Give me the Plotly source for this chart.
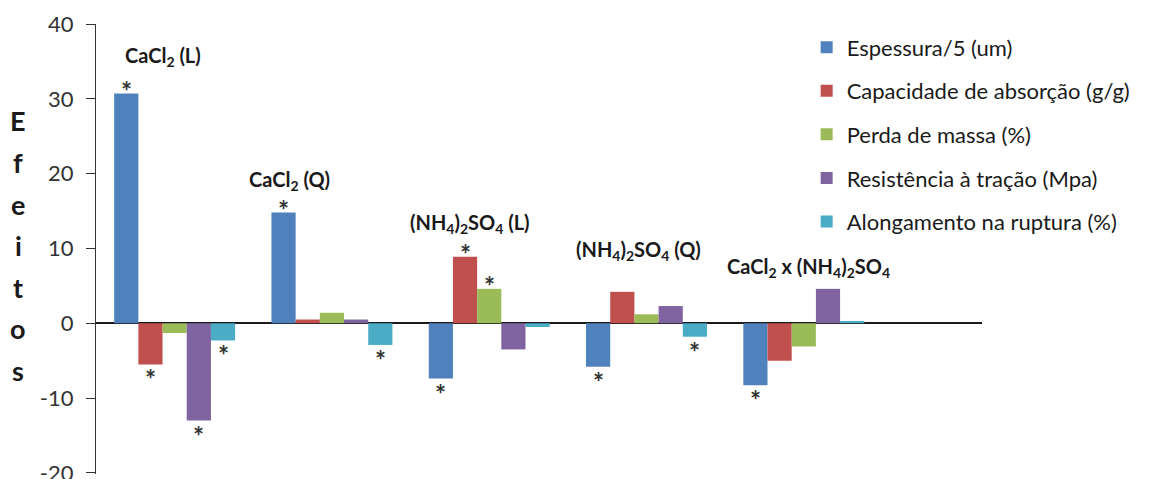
import plotly.graph_objects as go

# Factors (x categories)
factors = ["CaCl<sub>2</sub> (L)", "CaCl<sub>2</sub> (Q)", "(NH<sub>4</sub>)<sub>2</sub>SO<sub>4</sub> (L)",
           "(NH<sub>4</sub>)<sub>2</sub>SO<sub>4</sub> (Q)", "CaCl<sub>2</sub> x (NH<sub>4</sub>)<sub>2</sub>SO<sub>4</sub>"]

# Response series (effect estimates)
series_names = ["Espessura/5 (um)", "Capacidade de absorção (g/g)", "Perda de massa (%)",
                "Resistência à tração (Mpa)", "Alongamento na ruptura (%)"]
espessura = [30.7, 14.8, -7.4, -5.8, -8.3]
absorcao = [-5.5, 0.5, 8.9, 4.2, -5.0]
perda_massa = [-1.3, 1.4, 4.6, 1.2, -3.1]
resistencia = [-13.0, 0.5, -3.5, 2.3, 4.6]
alongamento = [-2.3, -2.9, -0.5, -1.8, 0.3]

# Significance flags (1 = significant effect, marked with *)
sig_espessura = [1, 1, 1, 1, 1]
sig_absorcao = [1, 0, 1, 0, 0]
sig_perda_massa = [0, 0, 1, 0, 0]
sig_resistencia = [1, 0, 0, 0, 0]
sig_alongamento = [1, 1, 0, 1, 0]

y_ticks = [-20, -10, 0, 10, 20, 30, 40]
y_tick_labels = ["-20", "-10", "0", "10", "20", "30", "40"]
axis_title = "Efeitos"

colors = ["#4F81BD", "#C0504D", "#9BBB59", "#8064A2", "#4BACC6"]
all_values = [espessura, absorcao, perda_massa, resistencia, alongamento]
all_sig = [sig_espessura, sig_absorcao, sig_perda_massa, sig_resistencia, sig_alongamento]

FONT = "Lato"
TXT = "#1a1a1a"
BARGAP = 0.231
n_series = len(series_names)
xs = list(range(len(factors)))

W, H = 1159, 479
L, R, T, B = 96, 177, 24, 5

fig = go.Figure()
for name, vals, col in zip(series_names, all_values, colors):
    fig.add_trace(go.Bar(x=xs, y=vals, name=name, marker=dict(color=col, line=dict(width=0)),
                         legendgroup=name))

annotations = []
bar_w = (1 - BARGAP) / n_series
for k, (vals, sig) in enumerate(zip(all_values, all_sig)):
    for i, (v, s) in enumerate(zip(vals, sig)):
        if not s:
            continue
        xpos = i + (k - (n_series - 1) / 2) * bar_w
        annotations.append(dict(x=xpos, y=v, xref="x", yref="y", text="<b>*</b>", showarrow=False,
                                yanchor="middle", yshift=3 if v > 0 else -15,
                                font=dict(family=FONT, size=26, color="#333333")))

# factor labels above each group
label_pos = [(-0.077, 35.6), (0.73, 19.1), (1.88, 13.4), (2.95, 9.76), (4.03, 7.5)]
for name, (lx, ly) in zip(factors, label_pos):
    annotations.append(dict(x=lx, y=ly, xref="x", yref="y", text="<b>" + name + "</b>", showarrow=False,
                            xanchor="center", yanchor="middle",
                            font=dict(family=FONT, size=20, color=TXT)))

# vertical stacked axis title (pixel positions converted to paper coords)
for j, ch in enumerate(axis_title):
    px, py = 18, 121 + j * 41.5
    annotations.append(dict(x=(px - L) / (W - L - R), y=(H - py - B) / (H - T - B),
                            xref="paper", yref="paper", text="<b>" + ch + "</b>",
                            showarrow=False, xanchor="center", yanchor="middle",
                            font=dict(family=FONT, size=27, color=TXT)))

fig.update_layout(
    width=W, height=H,
    margin=dict(l=L, r=R, t=T, b=B, autoexpand=False),
    paper_bgcolor="white", plot_bgcolor="white",
    barmode="group", bargap=BARGAP, bargroupgap=0,
    font=dict(family=FONT, color=TXT),
    xaxis=dict(range=[-0.5, 5.133], showticklabels=False, showgrid=False, zeroline=False,
               showline=False, ticks=""),
    yaxis=dict(range=[-20.15, 40], tickvals=y_ticks, ticktext=y_tick_labels, showgrid=False, showline=True,
               linecolor="#333333", linewidth=1.3, ticks="outside", ticklen=9, tickwidth=1.3,
               tickcolor="#333333", zeroline=True, zerolinecolor="#1a1a1a", zerolinewidth=1.5,
               tickfont=dict(family=FONT, size=22, color="#333333"), ticklabelstandoff=8,
               ticklabeloverflow="allow"),
    legend=dict(xref="container", yref="container", x=0.696, y=0.945, xanchor="left", yanchor="top",
                font=dict(family=FONT, size=22, color=TXT), tracegroupgap=12, bgcolor="rgba(0,0,0,0)"),
    annotations=annotations,
    showlegend=True,
)

fig.write_html("out.html")
